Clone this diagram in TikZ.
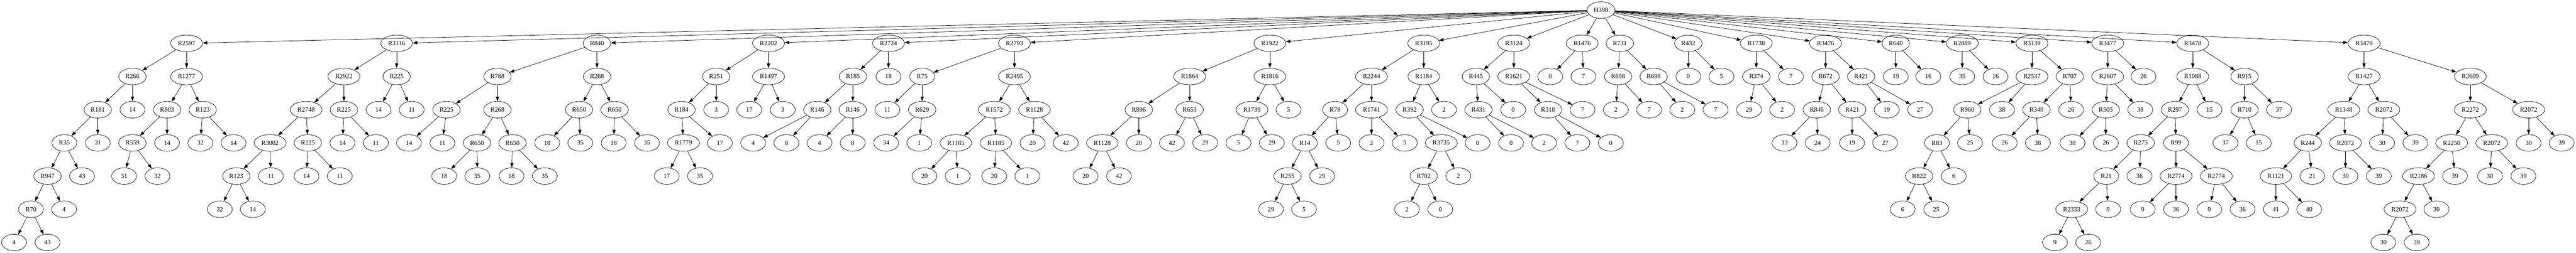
\documentclass[tikz,border=0pt]{standalone}
\usepackage{fontspec}
\setmainfont{Liberation Serif}
\usetikzlibrary{shapes.geometric,arrows.meta}
\begin{document}
\begin{tikzpicture}[x=0.75pt,y=-72pt,
  nd/.style={ellipse,draw,line width=0.8pt,minimum width=54pt,minimum height=36pt,inner xsep=5.8pt,inner ysep=2pt,font=\fontsize{14pt}{16pt}\selectfont},
  edge/.style={draw,line width=0.8pt,-{Triangle[length=10pt,width=7pt]}}]
\fill[white] (0,-0.3056) rectangle (7437,7.3090);
\useasboundingbox (0,-0.3056) rectangle (7437,7.3090);
\node[nd] (h) at (4622.3,0) {H398};
% R2597
\node[nd] (a) at (538.6,1) {R2597};
\node[nd] (a1) at (382.4,2) {R266};
\node[nd] (a2) at (538.6,2) {R1277};
\node[nd] (a11) at (282.3,3) {R181};
\node[nd] (a12) at (382.4,3) {14};
\node[nd] (a111) at (185.8,4) {R35};
\node[nd] (a112) at (282.3,4) {31};
\node[nd] (a1111) at (137.2,5) {R947};
\node[nd] (a1112) at (236.9,5) {43};
\node[nd] (a11111) at (89.4,6) {R70};
\node[nd] (a11112) at (185,6) {4};
\node[nd] (a111111) at (40.7,7) {4};
\node[nd] (a111112) at (137.2,7) {43};
\node[nd] (a21) at (482.4,3) {R803};
\node[nd] (a22) at (585.2,3) {R123};
\node[nd] (a211) at (382.4,4) {R559};
\node[nd] (a212) at (482.4,4) {14};
\node[nd] (a2111) at (358.2,5) {31};
\node[nd] (a2112) at (454.7,5) {32};
\node[nd] (a221) at (578.5,4) {32};
\node[nd] (a222) at (674.2,4) {14};
% R3116
\node[nd] (b) at (1145.1,1) {R3116};
\node[nd] (b1) at (992.9,2) {R2922};
\node[nd] (b2) at (1145.1,2) {R225};
\node[nd] (b11) at (883.7,3) {R2748};
\node[nd] (b12) at (992.9,3) {R225};
\node[nd] (b21) at (1092.9,3) {14};
\node[nd] (b22) at (1188.6,3) {11};
\node[nd] (b111) at (779.7,4) {R3002};
\node[nd] (b112) at (888.9,4) {R225};
\node[nd] (b121) at (988.9,4) {14};
\node[nd] (b122) at (1085,4) {11};
\node[nd] (b1111) at (682.1,5) {R123};
\node[nd] (b1112) at (782.1,5) {11};
\node[nd] (b1121) at (884.9,5) {14};
\node[nd] (b1122) at (981,5) {11};
\node[nd] (b11111) at (634.6,6) {32};
\node[nd] (b11112) at (729.9,6) {14};
% R840
\node[nd] (c) at (1723.6,1) {R840};
\node[nd] (c1) at (1436.1,2) {R788};
\node[nd] (c2) at (1723.6,2) {R268};
\node[nd] (c11) at (1289,3) {R225};
\node[nd] (c12) at (1436.1,3) {R268};
\node[nd] (c111) at (1180.7,4) {14};
\node[nd] (c112) at (1277.2,4) {11};
\node[nd] (c121) at (1377.2,4) {R650};
\node[nd] (c122) at (1479.6,4) {R650};
\node[nd] (c1211) at (1282.3,5) {18};
\node[nd] (c1212) at (1378,5) {35};
\node[nd] (c1221) at (1476.9,5) {18};
\node[nd] (c1222) at (1572.9,5) {35};
\node[nd] (c21) at (1671.8,3) {R650};
\node[nd] (c22) at (1774.2,3) {R650};
\node[nd] (c211) at (1579.7,4) {18};
\node[nd] (c212) at (1675.3,4) {35};
\node[nd] (c221) at (1771.8,4) {18};
\node[nd] (c222) at (1868,4) {35};
% R2202
\node[nd] (d) at (2218.6,1) {R2202};
\node[nd] (d1) at (2067.6,2) {R251};
\node[nd] (d2) at (2218.6,2) {R1497};
\node[nd] (d11) at (1967.6,3) {R184};
\node[nd] (d12) at (2067.6,3) {3};
\node[nd] (d21) at (2163.3,3) {17};
\node[nd] (d22) at (2259.8,3) {3};
\node[nd] (d111) at (1973.1,4) {R1779};
\node[nd] (d112) at (2078.3,4) {17};
\node[nd] (d1111) at (1924.8,5) {17};
\node[nd] (d1112) at (2020.9,5) {35};
% R2724
\node[nd] (e) at (2565,1) {R2724};
\node[nd] (e1) at (2462.6,2) {R185};
\node[nd] (e2) at (2565,2) {18};
\node[nd] (e11) at (2359.4,3) {R146};
\node[nd] (e12) at (2461.8,3) {R146};
\node[nd] (e111) at (2174.4,4) {4};
\node[nd] (e112) at (2270.4,4) {8};
\node[nd] (e121) at (2366.1,4) {4};
\node[nd] (e122) at (2461.8,4) {8};
% R2793
\node[nd] (f) at (2928.8,1) {R2793};
\node[nd] (f1) at (2662.3,2) {R75};
\node[nd] (f2) at (2928.8,2) {R2495};
\node[nd] (f11) at (2561.9,3) {11};
\node[nd] (f12) at (2662.3,3) {R629};
\node[nd] (f121) at (2558.3,4) {34};
\node[nd] (f122) at (2654,4) {1};
\node[nd] (f21) at (2870.7,3) {R1572};
\node[nd] (f22) at (2986.5,3) {R1128};
\node[nd] (f211) at (2759.6,4) {R1185};
\node[nd] (f212) at (2875.4,4) {R1185};
\node[nd] (f2111) at (2669,5) {20};
\node[nd] (f2112) at (2764.7,5) {1};
\node[nd] (f2121) at (2870.3,5) {20};
\node[nd] (f2122) at (2966,5) {1};
\node[nd] (f221) at (2981,4) {20};
\node[nd] (f222) at (3076.7,4) {42};
% R1922
\node[nd] (g) at (3666.2,1) {R1922};
\node[nd] (g1) at (3434.5,2) {R1864};
\node[nd] (g2) at (3666.2,2) {R1816};
\node[nd] (g11) at (3287.8,3) {R896};
\node[nd] (g12) at (3434.5,3) {R653};
\node[nd] (g111) at (3182.2,4) {R1128};
\node[nd] (g112) at (3287.8,4) {20};
\node[nd] (g1111) at (3134,5) {20};
\node[nd] (g1112) at (3230.5,5) {42};
\node[nd] (g121) at (3383.5,4) {42};
\node[nd] (g122) at (3479.6,4) {29};
\node[nd] (g21) at (3614.4,3) {R1739};
\node[nd] (g22) at (3720,3) {5};
\node[nd] (g211) at (3575.7,4) {5};
\node[nd] (g212) at (3671.8,4) {29};
% R3195
\node[nd] (i) at (4110.3,1) {R3195};
\node[nd] (i1) at (3959.6,2) {R2244};
\node[nd] (i2) at (4110.3,2) {R1184};
\node[nd] (i11) at (3854.4,3) {R78};
\node[nd] (i12) at (3959.6,3) {R1741};
\node[nd] (i111) at (3767.4,4) {R14};
\node[nd] (i112) at (3863.5,4) {5};
\node[nd] (i1111) at (3717,5) {R255};
\node[nd] (i1112) at (3816.9,5) {29};
\node[nd] (i11111) at (3669.4,6) {29};
\node[nd] (i11112) at (3764.7,6) {5};
\node[nd] (i121) at (3959.6,4) {2};
\node[nd] (i122) at (4055.7,4) {5};
\node[nd] (i21) at (4069.5,3) {R392};
\node[nd] (i22) at (4168.8,3) {2};
\node[nd] (i211) at (4160.9,4) {R3735};
\node[nd] (i212) at (4266,4) {0};
\node[nd] (i2111) at (4110.3,5) {R702};
\node[nd] (i2112) at (4210.3,5) {2};
\node[nd] (i21111) at (4062,6) {2};
\node[nd] (i21112) at (4158.1,6) {0};
% R3124
\node[nd] (j) at (4370.4,1) {R3124};
\node[nd] (j1) at (4260.9,2) {R445};
\node[nd] (j2) at (4370.4,2) {R1621};
\node[nd] (j11) at (4268.4,3) {R431};
\node[nd] (j12) at (4368.5,3) {0};
\node[nd] (j111) at (4362.5,4) {0};
\node[nd] (j112) at (4457.8,4) {2};
\node[nd] (j21) at (4469.3,3) {R318};
\node[nd] (j22) at (4568.9,3) {7};
\node[nd] (j211) at (4553.9,4) {7};
\node[nd] (j212) at (4650.4,4) {0};
% R1476
\node[nd] (k) at (4567.8,1) {R1476};
\node[nd] (k1) at (4475.6,2) {0};
\node[nd] (k2) at (4571.3,2) {7};
% R731
\node[nd] (l) at (4676.5,1) {R731};
\node[nd] (l1) at (4671.4,2) {R698};
\node[nd] (l2) at (4774.2,2) {R698};
\node[nd] (l11) at (4665,3) {2};
\node[nd] (l12) at (4761.1,3) {7};
\node[nd] (l21) at (4856.8,3) {2};
\node[nd] (l22) at (4952.9,3) {7};
% R432
\node[nd] (m) at (4874.2,1) {R432};
\node[nd] (m1) at (4874.2,2) {0};
\node[nd] (m2) at (4969.9,2) {5};
% R1738
\node[nd] (n) at (5070.3,1) {R1738};
\node[nd] (n1) at (5070.3,2) {R374};
\node[nd] (n2) at (5170.4,2) {7};
\node[nd] (n11) at (5049.4,3) {29};
\node[nd] (n12) at (5145,3) {2};
% R3476
\node[nd] (o) at (5270.4,1) {R3476};
\node[nd] (o1) at (5270.4,2) {R672};
\node[nd] (o2) at (5373.2,2) {R421};
\node[nd] (o11) at (5245.1,3) {R846};
\node[nd] (o12) at (5347.5,3) {R421};
\node[nd] (o111) at (5151.8,4) {33};
\node[nd] (o112) at (5247.5,4) {24};
\node[nd] (o121) at (5346.7,4) {19};
\node[nd] (o122) at (5442.4,4) {27};
\node[nd] (o21) at (5447.1,3) {19};
\node[nd] (o22) at (5543.2,3) {27};
% R640
\node[nd] (p) at (5473.2,1) {R640};
\node[nd] (p1) at (5473.2,2) {19};
\node[nd] (p2) at (5567,2) {16};
% R2889
\node[nd] (q) at (5665,1) {R2889};
\node[nd] (q1) at (5665,2) {35};
\node[nd] (q2) at (5761.1,2) {16};
% R3139
\node[nd] (r) at (5866.3,1) {R3139};
\node[nd] (r1) at (5866.3,2) {R2537};
\node[nd] (r2) at (5975.4,2) {R707};
\node[nd] (r11) at (5679.6,3) {R960};
\node[nd] (r12) at (5779.7,3) {38};
\node[nd] (r111) at (5592,4) {R83};
\node[nd] (r112) at (5687.6,4) {25};
\node[nd] (r1111) at (5540.5,5) {R822};
\node[nd] (r1112) at (5640.5,5) {6};
\node[nd] (r11111) at (5493,6) {6};
\node[nd] (r11112) at (5589.9,6) {25};
\node[nd] (r21) at (5879.3,3) {R340};
\node[nd] (r22) at (5979.4,3) {26};
\node[nd] (r211) at (5787.6,4) {26};
\node[nd] (r212) at (5883.3,4) {38};
% R3477
\node[nd] (s) at (6084.9,1) {R3477};
\node[nd] (s1) at (6084.9,2) {R2607};
\node[nd] (s2) at (6188,2) {26};
\node[nd] (s11) at (6079.4,3) {R505};
\node[nd] (s12) at (6179,3) {38};
\node[nd] (s111) at (5983.3,4) {38};
\node[nd] (s112) at (6079.4,4) {26};
% R3478
\node[nd] (t) at (6330.5,1) {R3478};
\node[nd] (t1) at (6330.5,2) {R1088};
\node[nd] (t2) at (6480,2) {R915};
\node[nd] (t11) at (6279,3) {R297};
\node[nd] (t12) at (6379,3) {15};
\node[nd] (t111) at (6180,4) {R275};
\node[nd] (t112) at (6282.2,4) {R99};
\node[nd] (t1111) at (6080.6,5) {R21};
\node[nd] (t1112) at (6177,5) {36};
\node[nd] (t11111) at (5981,6) {R2333};
\node[nd] (t11112) at (6086.1,6) {9};
\node[nd] (t111111) at (5932.7,7) {9};
\node[nd] (t111112) at (6028.8,7) {26};
\node[nd] (t1121) at (6282.2,5) {R2774};
\node[nd] (t1122) at (6398.5,5) {R2774};
\node[nd] (t11211) at (6186,6) {9};
\node[nd] (t11212) at (6282.2,6) {36};
\node[nd] (t11221) at (6378.3,6) {9};
\node[nd] (t11222) at (6474.4,6) {36};
\node[nd] (t21) at (6480,3) {R710};
\node[nd] (t22) at (6579.6,3) {37};
\node[nd] (t211) at (6425,4) {37};
\node[nd] (t212) at (6521,4) {15};
% R3479
\node[nd] (u) at (6825,1) {R3479};
\node[nd] (u1) at (6825,2) {R1427};
\node[nd] (u2) at (7131.8,2) {R2609};
\node[nd] (u11) at (6766.2,3) {R1348};
\node[nd] (u12) at (6882.2,3) {R2072};
\node[nd] (u111) at (6662.6,4) {R244};
\node[nd] (u112) at (6771.4,4) {R2072};
\node[nd] (u1111) at (6570.5,5) {R1121};
\node[nd] (u1112) at (6675.7,5) {21};
\node[nd] (u11111) at (6570.5,6) {41};
\node[nd] (u11112) at (6666.6,6) {40};
\node[nd] (u1121) at (6771.4,5) {30};
\node[nd] (u1122) at (6867.6,5) {39};
\node[nd] (u121) at (6877.1,4) {30};
\node[nd] (u122) at (6973.2,4) {39};
\node[nd] (u21) at (7131.8,3) {R2272};
\node[nd] (u22) at (7300.2,3) {R2072};
\node[nd] (u211) at (7078,4) {R2250};
\node[nd] (u212) at (7193.8,4) {R2072};
\node[nd] (u2111) at (6982.3,5) {R2186};
\node[nd] (u2112) at (7087.5,5) {39};
\node[nd] (u21111) at (6928.9,6) {R2072};
\node[nd] (u21112) at (7034.1,6) {30};
\node[nd] (u211111) at (6880.7,7) {30};
\node[nd] (u211112) at (6977.1,7) {39};
\node[nd] (u2121) at (7188.7,5) {30};
\node[nd] (u2122) at (7285.2,5) {39};
\node[nd] (u221) at (7300.2,4) {30};
\node[nd] (u222) at (7395.5,4) {39};
% edges
\foreach \c in {a,b,c,d,e,f,g,i,j,k,l,m,n,o,p,q,r,s,t,u}
  \path[edge] (h) -- (\c);
\foreach \x in {a,a1,a2,a11,a111,a1111,a11111,a21,a22,a211,
  b,b1,b2,b11,b12,b111,b112,b1111,
  c,c1,c2,c11,c12,c121,c122,c21,c22,
  d,d1,d2,d11,d111,
  e,e1,e11,e12,
  f,f1,f2,f12,f21,f22,f211,f212,
  g,g1,g2,g11,g12,g111,g21,
  i,i1,i2,i11,i12,i111,i1111,i21,i211,i2111,
  j,j1,j2,j11,j21,
  k,l,l1,l2,m,n,n1,
  o,o1,o2,o11,o12,
  p,q,r,r1,r2,r11,r111,r1111,r21,
  s,s1,s11,
  t,t1,t2,t11,t111,t1111,t11111,t112,t1121,t1122,t21,
  u,u1,u2,u11,u111,u1111,u112,u12,u21,u211,u2111,u21111,u212,u22}
  {\path[edge] (\x) -- (\x1); \path[edge] (\x) -- (\x2);}
\end{tikzpicture}
\end{document}
